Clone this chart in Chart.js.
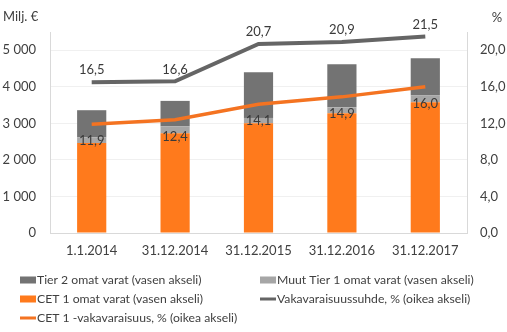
<!DOCTYPE html>
<html>
<head>
<meta charset="utf-8">
<script src="https://cdn.jsdelivr.net/npm/chart.js@4"></script>
<style>
  html, body { margin: 0; padding: 0; background: #ffffff; }
  #wrap { width: 507px; height: 332px; }
</style>
</head>
<body>
<div id="wrap"><canvas id="chart" width="507" height="332"></canvas></div>
<script>
const categories = ["1.1.2014", "31.12.2014", "31.12.2015", "31.12.2016", "31.12.2017"];

// Milj. € (left axis)
const cet1Funds = [2460, 2730, 3000, 3280, 3580];
const otherTier1Funds = [160, 190, 150, 160, 190];
const tier2Funds = [740, 695, 1250, 1180, 1010];

// % (right axis)
const capitalRatio = [16.5, 16.6, 20.7, 20.9, 21.5];
const cet1Ratio = [11.9, 12.4, 14.1, 14.9, 16.0];

const leftTicks = [0, 1000, 2000, 3000, 4000, 5000];
const rightTicks = [0, 4, 8, 12, 16, 20];

const FONT = "Lato, 'Open Sans', sans-serif";
const TEXT = "#404040";

const fmtThousands = (v) => v === 0 ? "0" : String(v).replace(/\B(?=(\d{3})+(?!\d))/g, " ");
const fmtPct = (v) => v.toFixed(1).replace(".", ",");

const chartCanvas = document.getElementById("chart");
const ctx = chartCanvas.getContext("2d");

// axis titles above each axis
const axisTitles = {
  id: "axisTitles",
  afterDraw(chart) {
    const c = chart.ctx;
    c.save();
    c.font = "13px " + FONT;
    c.fillStyle = TEXT;
    c.textBaseline = "middle";
    c.textAlign = "left";
    c.fillText("Milj. €", 3, 17);
    c.textAlign = "center";
    c.fillText("%", 497, 18);
    c.restore();
  }
};

// value labels on the two lines
const valueLabels = {
  id: "valueLabels",
  afterDatasetsDraw(chart) {
    const c = chart.ctx;
    c.save();
    c.font = "13px " + FONT;
    c.textAlign = "center";
    c.textBaseline = "middle";
    chart.data.datasets.forEach((ds, i) => {
      if (ds.labelShift === undefined) return;
      chart.getDatasetMeta(i).data.forEach((pt, j) => {
        c.fillStyle = ds.labelColor;
        c.fillText(fmtPct(ds.data[j]), pt.x, pt.y + ds.labelShift);
      });
    });
    c.restore();
  }
};

// two-column legend under the chart
const gridLegend = {
  id: "gridLegend",
  afterDraw(chart) {
    const c = chart.ctx;
    const order = [2, 3, 4, 0, 1];
    const cols = [20, 260];
    const rows = [280, 299, 318];
    c.save();
    c.font = "12.2px " + FONT;
    c.textBaseline = "middle";
    c.textAlign = "left";
    order.forEach((idx, k) => {
      const ds = chart.data.datasets[idx];
      const x = cols[k % 2];
      const y = rows[Math.floor(k / 2)];
      if (ds.type === "line") {
        c.fillStyle = ds.borderColor;
        c.fillRect(x, y - 1.5, 16, 3);
      } else {
        c.fillStyle = ds.backgroundColor;
        c.fillRect(x, y - 3.5, 16, 7);
      }
      c.fillStyle = TEXT;
      c.fillText(ds.label, x + 17, y);
    });
    c.restore();
  }
};

const chart = new Chart(ctx, {
  data: {
    labels: categories,
    datasets: [
      {
        type: "line",
        label: "Vakavaraisuussuhde, % (oikea akseli)",
        data: capitalRatio,
        yAxisID: "yRight",
        borderColor: "#656565",
        borderWidth: 4,
        pointRadius: 0,
        tension: 0,
        order: 0,
        labelShift: -12,
        labelColor: "#3a3a3a"
      },
      {
        type: "line",
        label: "CET 1 -vakavaraisuus, % (oikea akseli)",
        data: cet1Ratio,
        yAxisID: "yRight",
        borderColor: "#f47321",
        borderWidth: 3.5,
        pointRadius: 0,
        tension: 0,
        order: 0,
        labelShift: 17,
        labelColor: "#3a3a3a"
      },
      {
        type: "bar",
        label: "Tier 2 omat varat (vasen akseli)",
        data: tier2Funds,
        yAxisID: "yLeft",
        backgroundColor: "#737373",
        stack: "funds",
        order: 3
      },
      {
        type: "bar",
        label: "Muut Tier 1 omat varat (vasen akseli)",
        data: otherTier1Funds,
        yAxisID: "yLeft",
        backgroundColor: "#a6a6a6",
        stack: "funds",
        order: 2
      },
      {
        type: "bar",
        label: "CET 1 omat varat (vasen akseli)",
        data: cet1Funds,
        yAxisID: "yLeft",
        backgroundColor: "#ff7a1c",
        stack: "funds",
        order: 1
      }
    ]
  },
  options: {
    responsive: false,
    animation: false,
    layout: { padding: { top: 32, left: 0, right: 0, bottom: 0 } },
    datasets: {
      bar: { barPercentage: 0.35, categoryPercentage: 1 }
    },
    plugins: {
      legend: { display: false },
      tooltip: { enabled: false }
    },
    scales: {
      x: {
        stacked: true,
        offset: true,
        grid: { display: false, drawTicks: false },
        border: { color: "#d9d9d9", width: 1 },
        ticks: { color: TEXT, font: { family: FONT, size: 13 }, padding: 10, maxRotation: 0 },
        afterFit: (scale) => { scale.height = 99; }
      },
      yLeft: {
        position: "left",
        stacked: true,
        min: 0,
        max: 5500,
        grid: { color: "#f0f0f0", drawTicks: false },
        border: { color: "#d9d9d9", width: 1 },
        ticks: {
          color: TEXT,
          font: { family: FONT, size: 13 },
          padding: 14,
          callback: (v) => fmtThousands(v)
        },
        afterBuildTicks: (scale) => { scale.ticks = leftTicks.map((v) => ({ value: v })); },
        afterFit: (scale) => { scale.width = 50; }
      },
      yRight: {
        position: "right",
        min: 0,
        max: 22,
        grid: { display: false, drawTicks: false },
        border: { color: "#d9d9d9", width: 1 },
        ticks: {
          color: TEXT,
          font: { family: FONT, size: 13 },
          padding: 13,
          callback: (v) => fmtPct(v)
        },
        afterBuildTicks: (scale) => { scale.ticks = rightTicks.map((v) => ({ value: v })); },
        afterFit: (scale) => { scale.width = 40; }
      }
    }
  },
  plugins: [axisTitles, valueLabels, gridLegend]
});
</script>
</body>
</html>
